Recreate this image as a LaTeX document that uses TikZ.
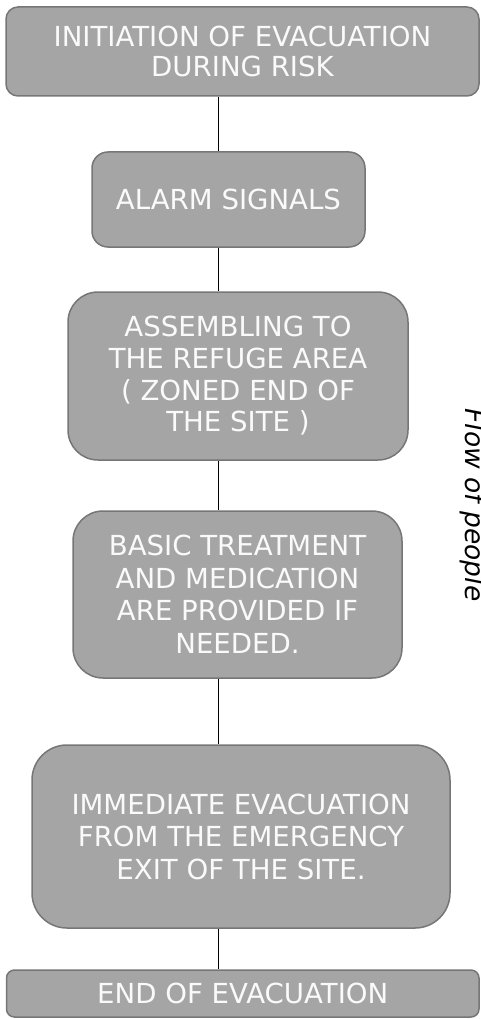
\documentclass[tikz,border=0pt]{standalone}
\usepackage{fontspec}
\setmainfont{DejaVu Sans}
\definecolor{boxfill}{HTML}{A5A5A5}
\definecolor{boxline}{HTML}{767676}
\definecolor{boxtext}{HTML}{FAFAFA}
\begin{document}
\begin{tikzpicture}[x=1pt,y=-1pt,
  stepbox/.style={draw=boxline,fill=boxfill,line width=1.5pt,text=boxtext,
    align=center,inner sep=0pt,
    font=\fontsize{27.6}{32.5}\selectfont},
  link/.style={draw=black,line width=1pt}]
\useasboundingbox (0,0) rectangle (480,1019);
\clip (0,0) rectangle (480,1019);

% process steps, top to bottom
\node[stepbox,rounded corners=12pt,minimum width=473pt,minimum height=89pt,
  font=\fontsize{27.6}{30.5}\selectfont]
  (b1) at (242.5,51.5) {INITIATION OF EVACUATION\\DURING RISK};
\node[stepbox,rounded corners=16pt,minimum width=273pt,minimum height=95pt]
  (b2) at (228.5,199.5) {ALARM SIGNALS};
\node[stepbox,rounded corners=30pt,minimum width=340pt,minimum height=168pt,
  font=\fontsize{27.6}{31.7}\selectfont]
  (b3) at (238,376) {ASSEMBLING TO\\THE REFUGE AREA\\( ZONED END OF\\THE SITE )};
\node[stepbox,rounded corners=30pt,minimum width=329pt,minimum height=167pt]
  (b4) at (237.5,594.5) {BASIC TREATMENT\\AND MEDICATION\\ARE PROVIDED IF\\NEEDED.};
\node[stepbox,rounded corners=35pt,minimum width=418pt,minimum height=183pt]
  (b5) at (241,836.5) {IMMEDIATE EVACUATION\\FROM THE EMERGENCY\\EXIT OF THE SITE.};
\node[stepbox,rounded corners=8pt,minimum width=472.5pt,minimum height=47pt]
  (b6) at (242.75,993.5) {END OF EVACUATION};

% common vertical spine of the connectors
\coordinate (spine) at (218,0);
\foreach \a/\b in {b1/b2,b2/b3,b3/b4,b4/b5,b5/b6}
  \draw[link] (spine |- \a.south) -- (spine |- \b.north);

% side label
\node[rotate=-90,anchor=base,inner sep=0pt,
  font=\fontsize{26.5}{30}\selectfont\itshape] (flow) at (465,505) {Flow of people};
\end{tikzpicture}
\end{document}
